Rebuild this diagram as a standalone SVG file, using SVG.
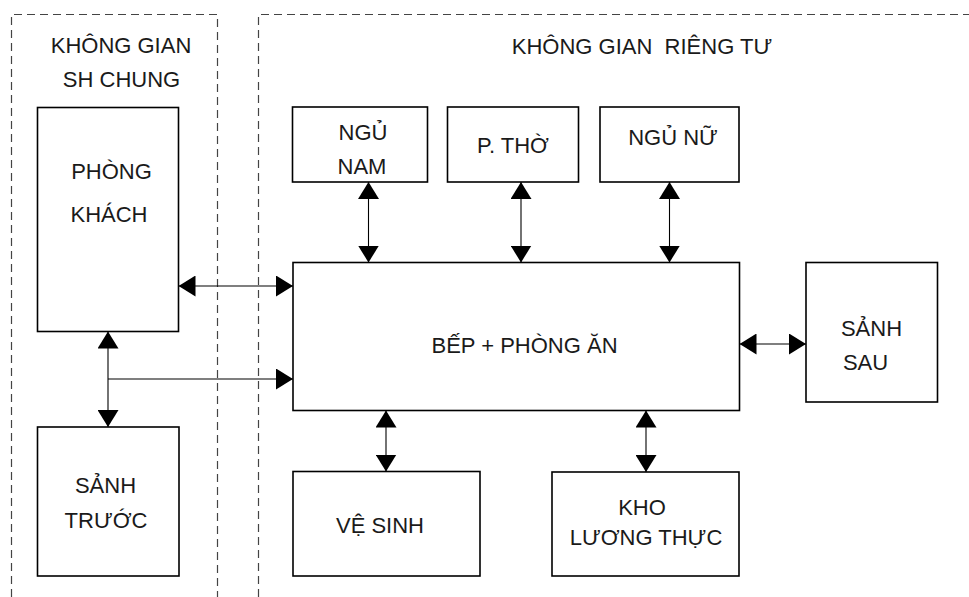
<svg xmlns="http://www.w3.org/2000/svg" width="969" height="597" viewBox="0 0 969 597">
<style>
.zone{fill:none;stroke:#444;stroke-width:1.2;stroke-dasharray:8 5}
.box{fill:#fff;stroke:#000;stroke-width:1.6}
.t{font-family:"Liberation Sans","DejaVu Sans",sans-serif;font-size:22px;fill:#1a1a1a;text-anchor:middle}
.c{fill:none;stroke:#000;stroke-width:1.1}
</style>
<defs>
<marker id="ah" markerUnits="userSpaceOnUse" markerWidth="17" markerHeight="21" refX="17" refY="10.5" orient="auto-start-reverse" viewBox="0 0 17 21">
<path d="M0,0 L17,10.5 L0,21 z" fill="#000"/>
</marker>
</defs>
<rect width="969" height="597" fill="#fff"/>
<g id="zone-chung">
<path class="zone" d="M11.5,597 V14.5 H217.5 V597"/>
<text class="t" x="121" y="53">KHÔNG GIAN</text>
<text class="t" x="121.5" y="87">SH CHUNG</text>
</g>
<g id="zone-rieng">
<path class="zone" d="M258.5,597 V14.5 H969"/>
<text class="t" x="642" y="54" xml:space="preserve">KHÔNG GIAN  RIÊNG TƯ</text>
</g>
<g id="phong-khach">
<rect class="box" x="37.5" y="107.5" width="141" height="224"/>
<text class="t" x="111.5" y="179">PHÒNG</text>
<text class="t" x="109" y="221.5">KHÁCH</text>
</g>
<g id="sanh-truoc">
<rect class="box" x="37.5" y="427" width="141.5" height="149"/>
<text class="t" x="105.5" y="492.5">SẢNH</text>
<text class="t" x="106" y="528">TRƯỚC</text>
</g>
<g id="ngu-nam">
<rect class="box" x="292.5" y="107" width="135" height="75"/>
<text class="t" x="363" y="140">NGỦ</text>
<text class="t" x="362" y="174">NAM</text>
</g>
<g id="p-tho">
<rect class="box" x="447.5" y="107" width="131" height="75"/>
<text class="t" x="513" y="153">P. THỜ</text>
</g>
<g id="ngu-nu">
<rect class="box" x="600" y="107" width="139" height="75"/>
<text class="t" x="673" y="145">NGỦ NỮ</text>
</g>
<g id="bep-phong-an">
<rect class="box" x="293" y="262.5" width="446.5" height="148"/>
<text class="t" x="524.5" y="353">BẾP + PHÒNG ĂN</text>
</g>
<g id="sanh-sau">
<rect class="box" x="806" y="262.5" width="131.5" height="139.5"/>
<text class="t" x="871.5" y="336">SẢNH</text>
<text class="t" x="865.5" y="370">SAU</text>
</g>
<g id="ve-sinh">
<rect class="box" x="293" y="471.5" width="187" height="104.5"/>
<text class="t" x="380" y="533">VỆ SINH</text>
</g>
<g id="kho-luong-thuc">
<rect class="box" x="552" y="472" width="187" height="104"/>
<text class="t" x="642" y="515">KHO</text>
<text class="t" x="646" y="545">LƯƠNG THỰC</text>
</g>
<g id="connectors">
<line class="c" x1="368.5" y1="182" x2="368.5" y2="262.5" marker-start="url(#ah)" marker-end="url(#ah)"/>
<line class="c" x1="521" y1="182" x2="521" y2="262.5" marker-start="url(#ah)" marker-end="url(#ah)"/>
<line class="c" x1="669.5" y1="182" x2="669.5" y2="262.5" marker-start="url(#ah)" marker-end="url(#ah)"/>
<line class="c" x1="386" y1="410.5" x2="386" y2="471.5" marker-start="url(#ah)" marker-end="url(#ah)"/>
<line class="c" x1="646" y1="410.5" x2="646" y2="472" marker-start="url(#ah)" marker-end="url(#ah)"/>
<line class="c" x1="178.5" y1="286" x2="293" y2="286" marker-start="url(#ah)" marker-end="url(#ah)"/>
<line class="c" x1="739.5" y1="344" x2="806" y2="344" marker-start="url(#ah)" marker-end="url(#ah)"/>
<line class="c" x1="108" y1="331.5" x2="108" y2="427" marker-start="url(#ah)" marker-end="url(#ah)"/>
<path class="c" d="M108,379 H293" marker-end="url(#ah)"/>
</g>
</svg>
